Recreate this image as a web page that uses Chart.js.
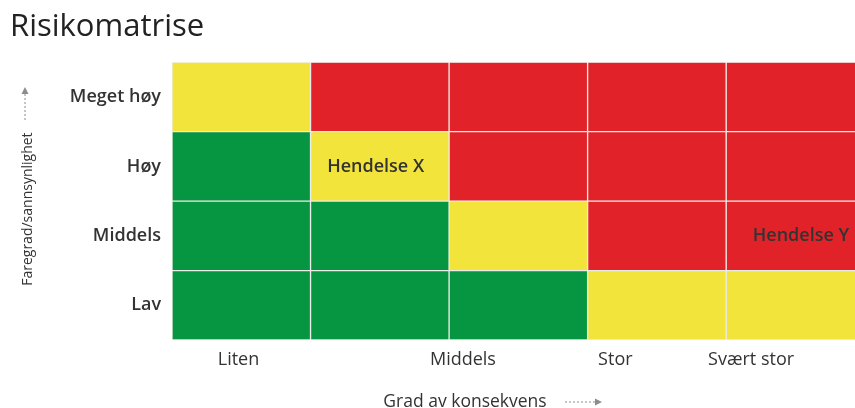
<!DOCTYPE html>
<html>
<head>
<meta charset="utf-8">
<script src="https://cdn.jsdelivr.net/npm/chart.js@4.4.1/dist/chart.umd.min.js"></script>
<style>
  html, body { margin: 0; padding: 0; background: #fff; overflow: hidden; }
  #wrap { width: 855px; height: 408px; position: relative; }
</style>
</head>
<body>
<div id="wrap"><canvas id="riskChart"></canvas></div>
<script>
// Rows top -> bottom (likelihood), columns left -> right (consequence)
const rowLabels = ['Meget høy', 'Høy', 'Middels', 'Lav'];
const columnCount = 5;
const consequenceLabels = ['Liten', 'Middels', 'Stor', 'Svært stor'];
const consequenceTickValues = [0.48, 2.1, 3.2, 4.18];

// 1 = lav (grønn), 2 = middels (gul), 3 = høy (rød)
const riskLevels = [
    [2, 3, 3, 3, 3],
    [1, 2, 3, 3, 3],
    [1, 1, 2, 3, 3],
    [1, 1, 1, 2, 2]
];

const eventNames = ['Hendelse X', 'Hendelse Y'];
const eventRows = [1, 2];
const eventX = [1.47, 4.54];

const levelColors = { 1: '#069540', 2: '#F2E43A', 3: '#E12329' };

const datasets = [];
for (let c = 0; c < columnCount; c++) {
    datasets.push({
        label: 'Kolonne ' + (c + 1),
        data: rowLabels.map(() => 1),
        backgroundColor: riskLevels.map(row => levelColors[row[c]]),
        borderColor: '#ecece6',
        borderWidth: 1,
        borderSkipped: false,
        barPercentage: 1,
        categoryPercentage: 1
    });
}

// Event labels inside the cells
const eventLabels = {
    id: 'eventLabels',
    afterDatasetsDraw(chart) {
        const { ctx, scales: { x, y } } = chart;
        ctx.save();
        ctx.font = '600 18px "Open Sans"';
        ctx.fillStyle = '#333';
        ctx.textAlign = 'center';
        ctx.textBaseline = 'middle';
        eventNames.forEach((name, i) => {
            ctx.fillText(name, x.getPixelForValue(eventX[i]), y.getPixelForValue(eventRows[i]));
        });
        ctx.restore();
    }
};

// Axis titles with dotted arrows
const axisTitles = {
    id: 'axisTitles',
    afterDraw(chart) {
        const { ctx, chartArea } = chart;
        ctx.save();
        ctx.fillStyle = '#333';
        ctx.strokeStyle = '#8c8c8c';
        ctx.lineWidth = 1;

        // y title
        const yMid = (chartArea.top + chartArea.bottom) / 2 + 8;
        ctx.save();
        ctx.translate(28, yMid);
        ctx.rotate(-Math.PI / 2);
        ctx.font = '14px "Liberation Sans Narrow", "Open Sans"';
        ctx.textAlign = 'center';
        ctx.textBaseline = 'middle';
        ctx.fillText('Faregrad/sannsynlighet', 0, 0);
        ctx.restore();

        ctx.setLineDash([2, 2]);
        ctx.beginPath();
        ctx.moveTo(25, 120);
        ctx.lineTo(25, 93);
        ctx.stroke();
        ctx.setLineDash([]);
        ctx.fillStyle = '#8c8c8c';
        ctx.beginPath();
        ctx.moveTo(25, 87);
        ctx.lineTo(21.5, 94);
        ctx.lineTo(28.5, 94);
        ctx.closePath();
        ctx.fill();

        // x title
        ctx.fillStyle = '#333';
        ctx.font = '17.5px "Open Sans"';
        ctx.textAlign = 'center';
        ctx.textBaseline = 'middle';
        ctx.fillText('Grad av konsekvens', 465, 402);

        ctx.setLineDash([2, 2]);
        ctx.beginPath();
        ctx.moveTo(565, 402);
        ctx.lineTo(595, 402);
        ctx.stroke();
        ctx.setLineDash([]);
        ctx.fillStyle = '#8c8c8c';
        ctx.beginPath();
        ctx.moveTo(602, 402);
        ctx.lineTo(595, 398.5);
        ctx.lineTo(595, 405.5);
        ctx.closePath();
        ctx.fill();
        ctx.restore();
    }
};

const ctxRisk = document.getElementById('riskChart').getContext('2d');
const riskChart = new Chart(ctxRisk, {
    type: 'bar',
    data: {
        labels: rowLabels,
        datasets: datasets
    },
    options: {
        indexAxis: 'y',
        responsive: true,
        maintainAspectRatio: false,
        animation: false,
        events: [],
        layout: { padding: { left: 10, right: 0, top: 0, bottom: 0 } },
        scales: {
            x: {
                type: 'linear',
                stacked: true,
                min: 0,
                max: 4.93,
                grid: { display: false },
                border: { display: false },
                afterBuildTicks: scale => {
                    scale.ticks = consequenceTickValues.map(v => ({ value: v }));
                },
                afterFit: scale => { scale.height = 68; },
                ticks: {
                    autoSkip: false,
                    maxRotation: 0,
                    padding: 1,
                    color: '#333',
                    font: { family: 'Open Sans', size: 18 },
                    callback: (value, index) => consequenceLabels[index]
                }
            },
            y: {
                stacked: true,
                grid: { display: false },
                border: { display: false },
                afterFit: scale => { scale.width = 162; },
                ticks: {
                    padding: 3,
                    color: '#333',
                    font: { family: 'Open Sans', size: 18, weight: '600' }
                }
            }
        },
        plugins: {
            legend: { display: false },
            tooltip: { enabled: false },
            title: {
                display: true,
                text: 'Risikomatrise',
                align: 'start',
                color: '#222',
                font: { family: 'Open Sans', size: 31, weight: 'normal' },
                padding: { top: 9, bottom: 16 }
            }
        }
    },
    plugins: [eventLabels, axisTitles]
});
</script>
</body>
</html>
